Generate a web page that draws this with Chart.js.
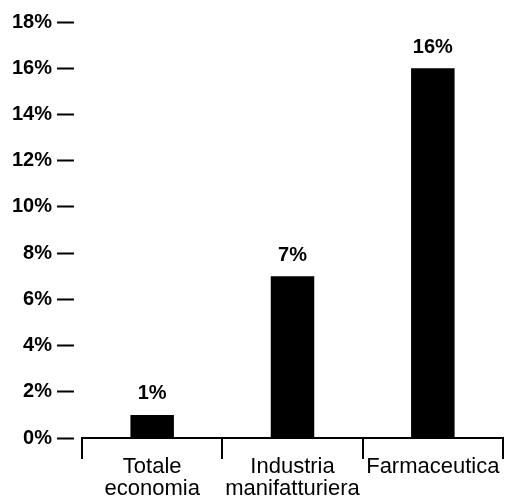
<!DOCTYPE html>
<html>
<head>
<meta charset="utf-8">
<script src="https://cdn.jsdelivr.net/npm/chart.js@4"></script>
<style>
  html, body { margin: 0; padding: 0; background: #fff; }
  #wrap { width: 505px; height: 497px; }
</style>
</head>
<body>
<div id="wrap"><canvas id="chart" width="505" height="497"></canvas></div>
<script>
// Categories, values and tick labels
const categories = [['Totale', 'economia'], ['Industria', 'manifatturiera'], 'Farmaceutica'];
const values = [1, 7, 16];
const yTickValues = [0, 2, 4, 6, 8, 10, 12, 14, 16, 18];

const FONT = '"Liberation Sans", Arial, sans-serif';

// Percentage labels above each bar, placed from the bar elements
const valueLabels = {
  id: 'valueLabels',
  afterDatasetsDraw(chart) {
    const ctx = chart.ctx;
    const meta = chart.getDatasetMeta(0);
    ctx.save();
    ctx.fillStyle = '#000';
    ctx.font = 'bold 20px ' + FONT;
    ctx.textAlign = 'center';
    ctx.textBaseline = 'bottom';
    meta.data.forEach((bar, i) => {
      ctx.fillText(values[i] + '%', bar.x, bar.y - 11);
    });
    ctx.restore();
  }
};

new Chart(document.getElementById('chart'), {
  type: 'bar',
  data: {
    labels: categories,
    datasets: [{
      data: values,
      backgroundColor: '#000',
      borderWidth: 0,
      barPercentage: 0.62,
      categoryPercentage: 0.5
    }]
  },
  options: {
    responsive: false,
    animation: false,
    events: [],
    layout: { padding: { top: 22, right: 2, left: 0, bottom: 0 } },
    plugins: { legend: { display: false }, tooltip: { enabled: false } },
    scales: {
      x: {
        grid: {
          offset: true,
          drawOnChartArea: false,
          drawTicks: true,
          tickLength: 21,
          color: '#000',
          lineWidth: 2
        },
        border: { display: true, color: '#000', width: 2 },
        ticks: {
          color: '#000',
          padding: -3,
          maxRotation: 0,
          autoSkip: false,
          font: { family: FONT, size: 22, lineHeight: 1.0 }
        },
        afterFit(scale) { scale.height = 59; }
      },
      y: {
        min: 0,
        max: 18,
        afterBuildTicks(scale) {
          scale.ticks = yTickValues.map(v => ({ value: v }));
        },
        grid: {
          drawOnChartArea: false,
          drawTicks: true,
          tickLength: 25,
          tickColor: '#000',
          tickWidth: 2,
          // short dash kept clear of the x-axis start
          tickBorderDash: [17, 100]
        },
        border: { display: false },
        ticks: {
          color: '#000',
          padding: 5,
          font: { family: FONT, size: 20, weight: 'bold' },
          callback: v => v + '%'
        },
        afterFit(scale) { scale.width = 82; }
      }
    }
  },
  plugins: [valueLabels]
});
</script>
</body>
</html>
